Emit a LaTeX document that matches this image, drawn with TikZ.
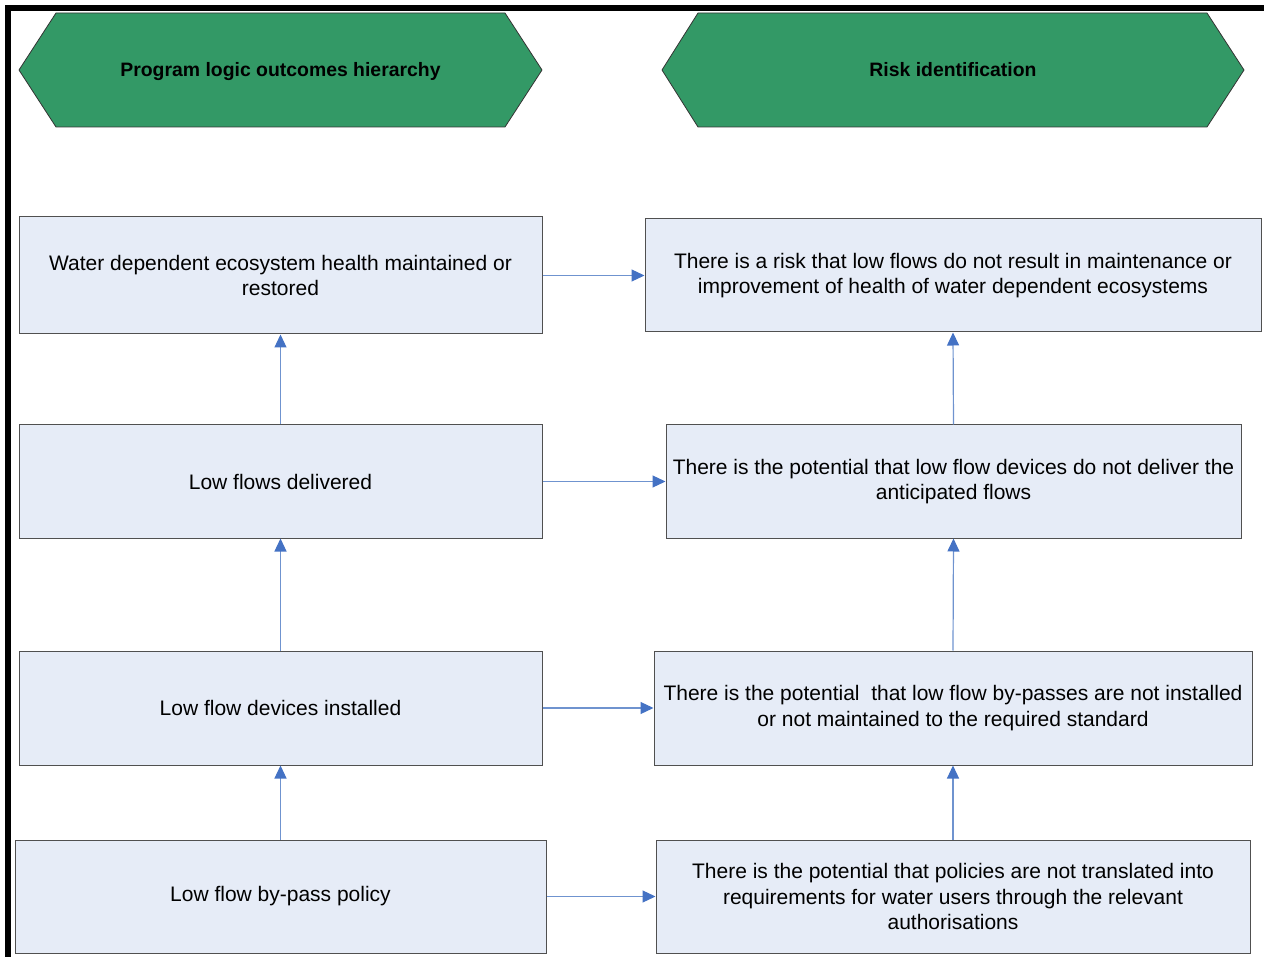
\documentclass[tikz,border=0pt]{standalone}
\usepackage{fontspec}
\setmainfont{Liberation Sans}
\usetikzlibrary{arrows.meta}
\definecolor{hexgreen}{HTML}{339966}
\definecolor{boxfill}{HTML}{E6ECF7}
\definecolor{boxline}{HTML}{505050}
\definecolor{arrline}{HTML}{6F93CF}
\definecolor{arrhead}{HTML}{4472C4}
\tikzset{
  stepbox/.style={draw=boxline, line width=1pt, fill=boxfill, rectangle, inner sep=0pt,
    align=center, font=\fontsize{21}{25.5}\selectfont},
  hexshape/.style={draw=black!80, line width=0.8pt, fill=hexgreen},
  hextext/.style={font=\fontsize{19.4}{23}\selectfont\bfseries, inner sep=0pt, anchor=base},
  flow/.style={draw=arrline, line width=1.2pt, -{Triangle[length=13pt,width=12pt,color=arrhead]}},
}
\begin{document}
\begin{tikzpicture}[x=1pt,y=-1pt]
\useasboundingbox (0,0) rectangle (1264,957);
% frame
\fill[black] (5,5) rectangle (1264,11);
\fill[black] (5,5) rectangle (11,957);
% headers
\draw[hexshape] (19,70) -- (56,13) -- (505,13) -- (542,70) -- (505,127) -- (56,127) -- cycle;
\node[hextext] (h1) at (280.5,77) {Program logic outcomes hierarchy};
\draw[hexshape] (662,70) -- (698,13) -- (1207,13) -- (1244,70) -- (1207,127) -- (698,127) -- cycle;
\node[hextext] (h2) at (953,77) {Risk identification};
% left column
\node[stepbox, minimum width=523pt, minimum height=117pt] (L1) at (280.5,275.5)
  {Water dependent ecosystem health maintained or\\restored};
\node[stepbox, minimum width=523pt, minimum height=113pt] (L2) at (280.5,481.5)
  {Low flows delivered};
\node[stepbox, minimum width=523pt, minimum height=114pt] (L3) at (280.5,708)
  {Low flow devices installed};
\node[stepbox, minimum width=531pt, minimum height=113pt] (L4) at (280.5,896.5)
  {Low flow by-pass policy};
% right column
\node[stepbox, minimum width=616pt, minimum height=113pt] (R1) at (953,275.5)
  {There is a risk that low flows do not result in maintenance or\\improvement of health of water dependent ecosystems};
\node[stepbox, minimum width=575pt, minimum height=113pt] (R2) at (953.5,481.5)
  {There is the potential that low flow devices do not deliver the\\anticipated flows};
\node[stepbox, minimum width=598pt, minimum height=114pt] (R3) at (953,708)
  {There is the potential\ \ that low flow by-passes are not installed\\or not maintained to the required standard};
\node[stepbox, minimum width=594pt, minimum height=113pt] (R4) at (953,896.5)
  {There is the potential that policies are not translated into\\requirements for water users through the relevant\\authorisations};
% connectors
\draw[flow] (L1.east) -- (R1.west);
\draw[flow] (L2.east) -- (R2.west);
\draw[flow] (L3.east) -- (R3.west);
\draw[flow] (L4.east) -- (R4.west);
\draw[flow] (L2.north) -- (L1.south);
\draw[flow] (L3.north) -- (L2.south);
\draw[flow] (L4.north) -- (L3.south);
\draw[flow] (R2.north) -- (R1.south);
\draw[flow] (R3.north) -- (R2.south);
\draw[flow] (R4.north) -- (R3.south);
\end{tikzpicture}
\end{document}
